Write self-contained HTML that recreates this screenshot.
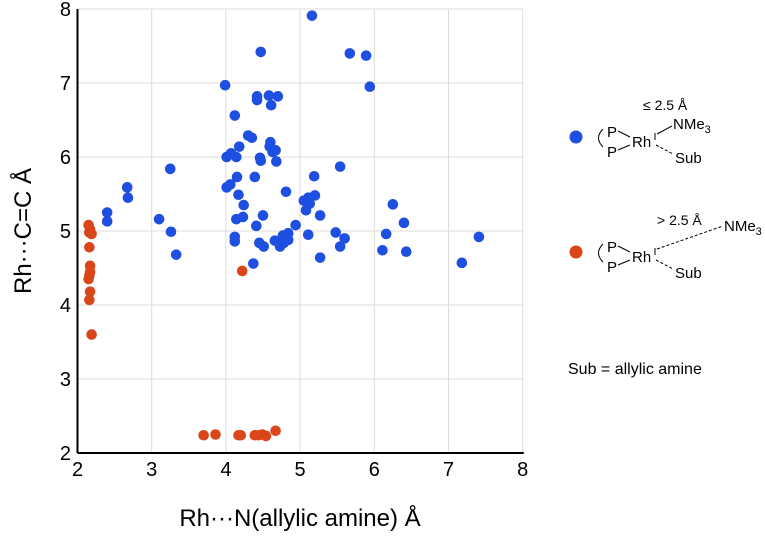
<!DOCTYPE html>
<html><head><meta charset="utf-8"><style>
body{margin:0;background:#fff;width:765px;height:533px;overflow:hidden;font-family:"Liberation Sans",sans-serif}
</style></head><body>
<svg id="chart" width="765" height="533" viewBox="0 0 765 533" xmlns="http://www.w3.org/2000/svg" font-family="Liberation Sans, sans-serif">
<g id="grid"></g>
<g id="axes"></g>
<g id="marks"></g>
<text x="300" y="526" font-size="24" text-anchor="middle">Rh···N(allylic amine) Å</text>
<text transform="translate(31,231) rotate(-90)" font-size="24" text-anchor="middle">Rh···C=C Å</text>
<g font-size="14">
 <circle cx="576" cy="137" r="6.5" fill="#1f4fe0"/>
 <text x="643" y="110">≤ 2.5 Å</text>
 <path d="M603,129 Q594,138 603,147" fill="none" stroke="#000"/>
 <text x="607" y="137" font-size="15">P</text><text x="607" y="157" font-size="15">P</text>
 <line x1="618" y1="131" x2="630" y2="137" stroke="#000"/><line x1="618" y1="150" x2="630" y2="145" stroke="#000"/>
 <text x="632" y="147" font-size="15">Rh</text>
 <line x1="655" y1="133" x2="655" y2="140" stroke="#000"/>
 <line x1="657" y1="134" x2="672" y2="126" stroke="#000"/>
 <text x="673" y="129" font-size="15">NMe<tspan font-size="11" dy="4">3</tspan></text>
 <line x1="656" y1="145" x2="673" y2="154" stroke="#000" stroke-dasharray="3,2"/>
 <text x="675" y="163" font-size="15">Sub</text>
 <circle cx="576" cy="252" r="6.5" fill="#d9461a"/>
 <text x="657" y="225">&gt; 2.5 Å</text>
 <path d="M603,244 Q594,253 603,262" fill="none" stroke="#000"/>
 <text x="607" y="252" font-size="15">P</text><text x="607" y="272" font-size="15">P</text>
 <line x1="618" y1="246" x2="630" y2="252" stroke="#000"/><line x1="618" y1="265" x2="630" y2="260" stroke="#000"/>
 <text x="632" y="262" font-size="15">Rh</text>
 <line x1="655" y1="248" x2="655" y2="255" stroke="#000"/>
 <line x1="657" y1="249" x2="723" y2="226" stroke="#000" stroke-dasharray="3,2"/>
 <text x="724" y="231" font-size="15">NMe<tspan font-size="11" dy="4">3</tspan></text>
 <line x1="656" y1="260" x2="673" y2="269" stroke="#000" stroke-dasharray="3,2"/>
 <text x="675" y="278" font-size="15">Sub</text>
 <text x="568" y="374" font-size="16">Sub = allylic amine</text>
</g>
</svg>
<script>
const xTicks=[2,3,4,5,6,7,8];
const yTicks=[2,3,4,5,6,7,8];
const blueX=[5.16,4.47,5.67,5.89,3.99,5.94,4.42,4.42,4.58,4.70,4.61,4.12,4.30,4.35,4.60,4.59,4.63,4.67,4.68,4.18,4.01,4.07,4.14,4.46,4.47,3.25,5.54,4.15,4.39,5.19,4.01,4.06,2.67,2.68,4.81,4.17,5.05,5.11,5.20,5.13,5.08,4.24,6.25,2.40,2.40,3.10,4.14,4.23,4.50,5.27,6.40,4.41,4.94,3.26,4.12,4.12,5.48,6.16,5.11,7.41,5.60,4.45,4.51,4.66,4.73,4.77,4.84,4.84,4.78,5.54,6.11,6.43,3.33,5.27,4.37,7.18];
const blueY=[7.91,7.42,7.40,7.37,6.97,6.95,6.82,6.77,6.83,6.82,6.70,6.56,6.29,6.26,6.20,6.14,6.07,6.09,5.94,6.14,6.00,6.05,6.00,5.99,5.95,5.84,5.87,5.73,5.73,5.74,5.59,5.63,5.59,5.45,5.53,5.49,5.41,5.45,5.48,5.37,5.28,5.35,5.36,5.25,5.13,5.16,5.16,5.19,5.21,5.21,5.11,5.07,5.08,4.99,4.92,4.86,4.98,4.96,4.95,4.92,4.90,4.84,4.79,4.87,4.79,4.94,4.88,4.97,4.84,4.79,4.74,4.72,4.68,4.64,4.56,4.57];
const redX=[2.15,2.17,2.16,2.19,2.16,2.17,2.17,2.16,2.15,2.17,2.16,2.19,4.22,3.70,3.86,4.17,4.20,4.39,4.44,4.49,4.54,4.67];
const redY=[5.08,5.02,4.98,4.96,4.78,4.53,4.45,4.40,4.35,4.18,4.07,3.60,4.46,2.24,2.25,2.24,2.24,2.24,2.24,2.25,2.23,2.30];
const X0=77.5,X1=522.7,Y0=453,Y1=9;
const sx=v=>X0+(v-2)/6*(X1-X0);
const sy=v=>Y0-(v-2)/6*(Y0-Y1);
const NS="http://www.w3.org/2000/svg";
const grid=document.getElementById('grid'),axes=document.getElementById('axes'),marks=document.getElementById('marks');
function mk(t,a,p){const e=document.createElementNS(NS,t);for(const k in a)e.setAttribute(k,a[k]);p.appendChild(e);return e;}
xTicks.forEach(t=>{
 const l=mk('line',{x1:sx(t),x2:sx(t),y1:Y1,y2:Y0,stroke:'#dcdcdc'},grid);
 
 
 const tx=mk('text',{x:sx(t),y:476,'font-size':20,'text-anchor':'middle'},axes);tx.textContent=t;
 
 
});
yTicks.forEach(t=>{
 const l=mk('line',{x1:X0,x2:X1,y1:sy(t),y2:sy(t),stroke:'#dcdcdc'},grid);
 
 
 const tx=mk('text',{x:71,y:sy(t)+7,'font-size':20,'text-anchor':'end'},axes);tx.textContent=t;
 
 
});
const xa=mk('line',{x1:X0,x2:X1+1,y1:Y0,y2:Y0,stroke:'#000','stroke-width':2},axes);


const ya=mk('line',{x1:X0,x2:X0,y1:Y1,y2:Y0,stroke:'#000','stroke-width':2},axes);


blueX.forEach((v,i)=>{
 const c=mk('circle',{cx:sx(v),cy:sy(blueY[i]),r:5.3,fill:'#1f4fe0'},marks);
 
 
});
redX.forEach((v,i)=>{
 const c=mk('circle',{cx:sx(v),cy:sy(redY[i]),r:5.3,fill:'#d9461a'},marks);
 
 
});
</script>
</body></html>
